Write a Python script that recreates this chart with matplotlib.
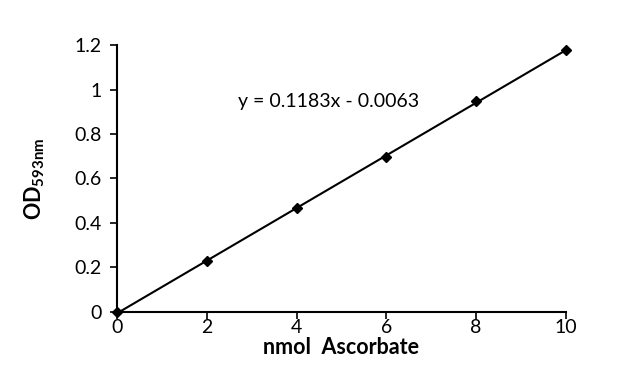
import matplotlib
matplotlib.use("Agg")
import matplotlib.pyplot as plt

# Standard curve data
nmol = [0, 2, 4, 6, 8, 10]
od593 = [0.0, 0.229, 0.466, 0.697, 0.947, 1.178]

# Linear trendline shown on the chart
slope = 0.1183
intercept = -0.0063
fit_x = [0, 10]

x_ticks = [0, 2, 4, 6, 8, 10]
y_ticks = [0, 0.2, 0.4, 0.6, 0.8, 1, 1.2]
y_tick_labels = ["0", "0.2", "0.4", "0.6", "0.8", "1", "1.2"]

plt.rcParams['font.family'] = ['Lato', 'DejaVu Sans']
# only mathtext used is the bold y label with its subscript
plt.rcParams['mathtext.fontset'] = 'custom'
plt.rcParams['mathtext.rm'] = 'Lato:bold'
plt.rcParams['mathtext.it'] = 'Lato:bold'
plt.rcParams['mathtext.bf'] = 'Lato:bold'
plt.rcParams['mathtext.default'] = 'rm'

fig = plt.figure(figsize=(6.4, 3.85), dpi=100)
ax = fig.add_axes([0.183, 0.19, 0.701, 0.693])

# trendline then the points on top
fit_y = [slope * x + intercept for x in fit_x]
ax.plot(fit_x, fit_y, color='black', linewidth=1.5, zorder=2)
ax.plot(nmol, od593, linestyle='none', marker='D', markersize=5.5,
        color='black', zorder=3, clip_on=False)

ax.set_xlim(0, 10)
ax.set_ylim(0, 1.2)
ax.set_xticks(x_ticks)
ax.set_yticks(y_ticks)
ax.set_yticklabels(y_tick_labels)
ax.tick_params(direction='out', length=5, width=1.2, labelsize=14, colors='black')
ax.tick_params(axis='x', pad=0)
ax.tick_params(axis='y', pad=6)

for side in ['top', 'right']:
    ax.spines[side].set_visible(False)
for side in ['left', 'bottom']:
    ax.spines[side].set_linewidth(1.5)

ax.set_xlabel("nmol  Ascorbate", fontsize=15.5, fontweight='bold', labelpad=1)
ax.set_ylabel(r"$OD_{593nm}$", fontsize=15.5, labelpad=20)

ax.text(2.7, 0.945, "y = 0.1183x - 0.0063", fontsize=14, va='center', ha='left')

fig.savefig("out.png", dpi=100)
